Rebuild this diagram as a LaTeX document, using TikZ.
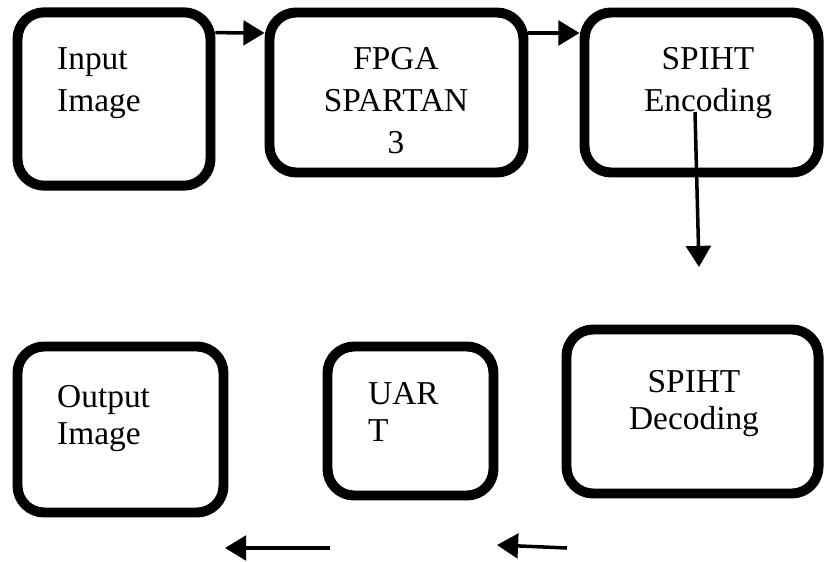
\documentclass[tikz,border=0pt]{standalone}
\usepackage{fontspec}
\setmainfont{Liberation Serif}
\usetikzlibrary{arrows.meta}

\begin{document}
\begin{tikzpicture}[x=0.03cm,y=-0.03cm,
                    box node/.style={draw,line width=8.5pt,rounded corners=0.8cm,inner sep=0pt},
                    top text/.style={inner sep=0pt,font=\fontsize{28.5}{35.8}\selectfont},
                    low text/.style={inner sep=0pt,font=\fontsize{28.5}{31.6}\selectfont},
                    arrow line/.style={line width=3pt,-{Triangle[length=18pt,width=21pt]}}]

  \useasboundingbox (0,0) rectangle (825,561);

  % blocks, top row
  \node[box node,minimum width=5.79cm,minimum height=5.2cm] (input) at (114,99) {};
  \node[box node,minimum width=7.62cm,minimum height=4.8cm] (fpga) at (396.5,92.5) {};
  \node[box node,minimum width=7.02cm,minimum height=4.8cm] (enc) at (701.5,92.5) {};

  % blocks, bottom row
  \node[box node,minimum width=6.18cm,minimum height=4.98cm] (output) at (120.5,429.5) {};
  \node[box node,minimum width=4.98cm,minimum height=4.47cm] (uart) at (410.5,421) {};
  \node[box node,minimum width=7.56cm,minimum height=4.92cm] (dec) at (692.5,411.5) {};

  % texts
  \node[top text,anchor=north west,align=left] (inputtxt) at (57,47) {Input\\Image};
  \node[top text,anchor=north,align=center] (fpgatxt) at (396,47) {FPGA\\SPARTAN\\3};
  \node[top text,anchor=north,align=center] (enctxt) at (708,47) {SPIHT\\Encoding};
  \node[low text,anchor=north west,align=left] (outputtxt) at (57,385) {Output\\Image};
  \node[low text,anchor=north west,align=left] (uarttxt) at (368,382) {UAR\\T};
  \node[low text,anchor=north,align=center] (dectxt) at (694,370) {SPIHT\\Decoding};

  % free arrow ends
  \coordinate (encdown) at (699,267);
  \coordinate (uartout) at (330,548);
  \coordinate (outin) at (225,548);
  \coordinate (decout) at (567,548);
  \coordinate (uartin) at (497,545);

  \path[arrow line]
    ([yshift=1.99cm]input.east) edge ([yshift=1.785cm]fpga.west)
    ([yshift=1.785cm]fpga.east) edge ([yshift=1.785cm]enc.west)
    ([xshift=-0.195cm,yshift=-0.585cm]enc.center) edge (encdown)
    (uartout) edge (outin)
    (decout) edge (uartin);

\end{tikzpicture}
\end{document}
